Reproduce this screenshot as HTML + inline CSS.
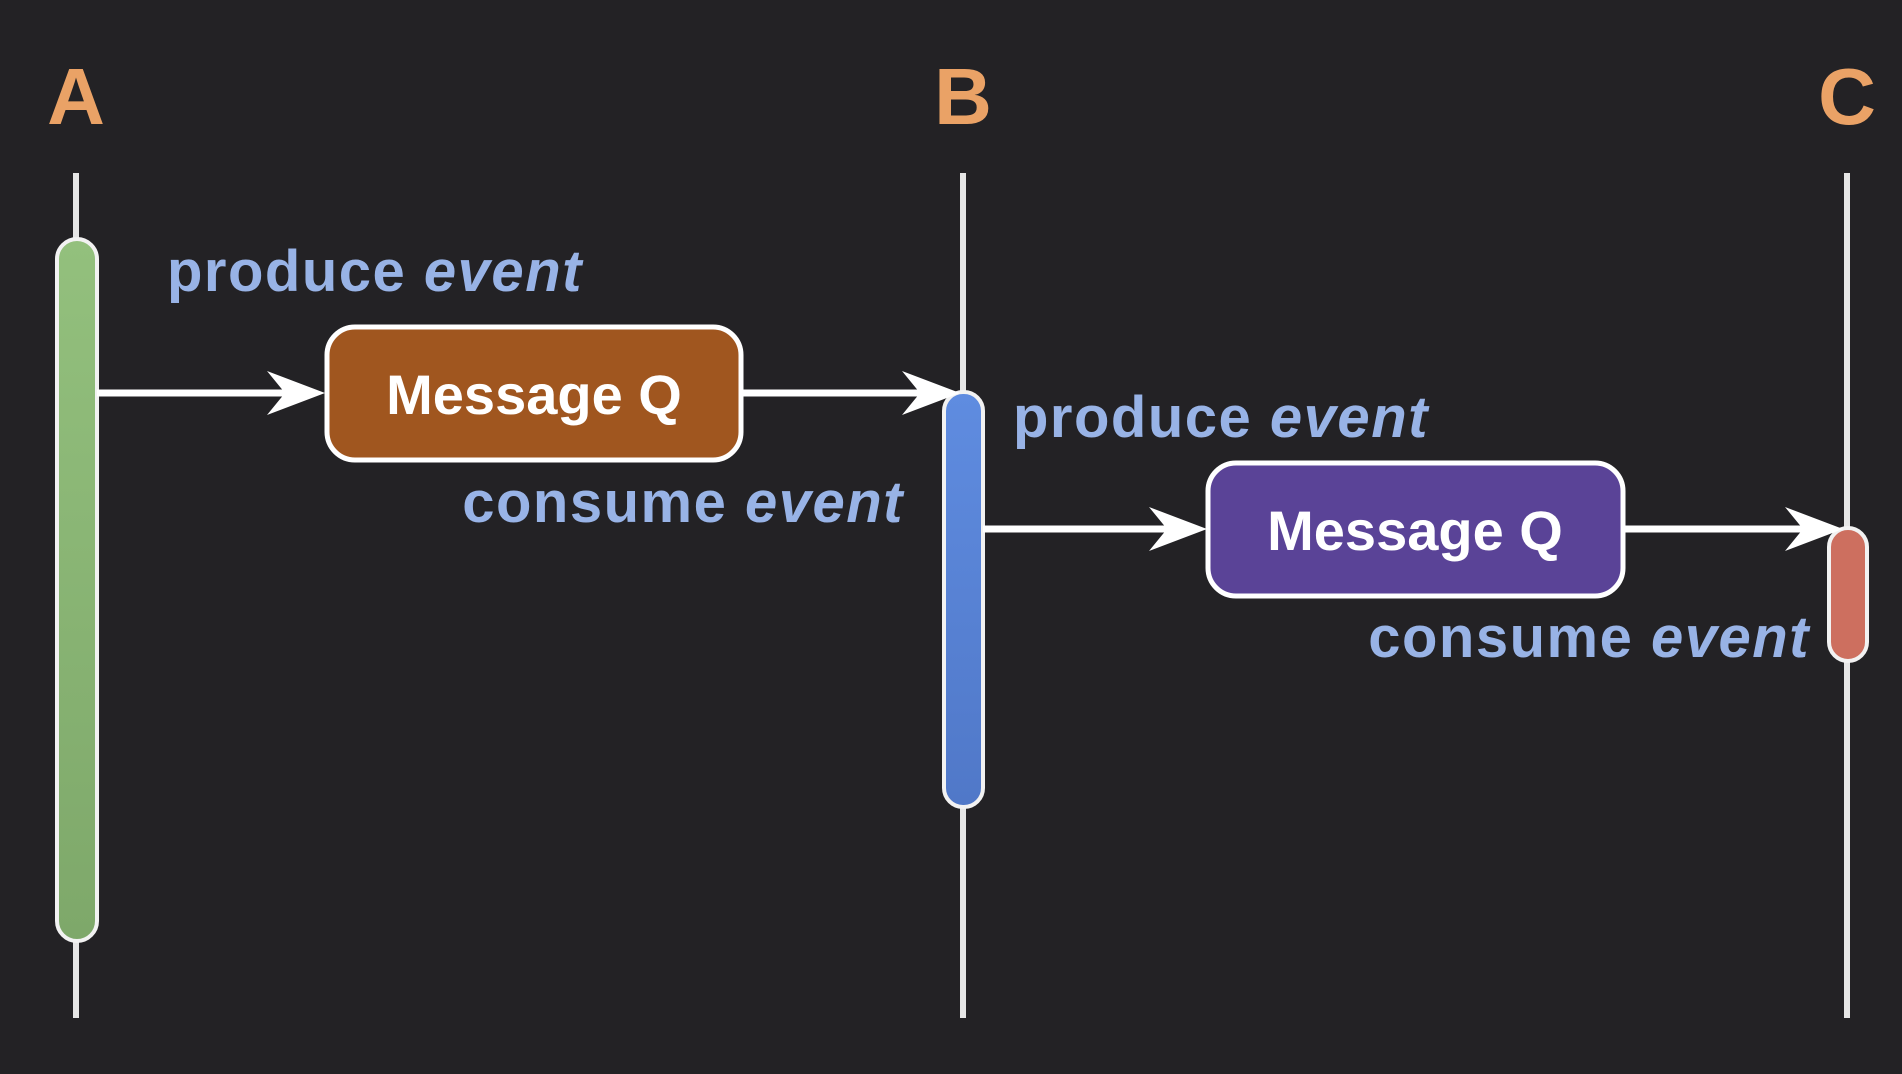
<!DOCTYPE html>
<html><head><meta charset="utf-8"><style>
html,body{margin:0;padding:0;background:#232225;}
svg{display:block}
</style></head><body>
<svg width="1902" height="1074" viewBox="0 0 1902 1074" xmlns="http://www.w3.org/2000/svg">
<defs>
<linearGradient id="gA" x1="0" y1="0" x2="0" y2="1"><stop offset="0" stop-color="#93c07d"/><stop offset="1" stop-color="#7ea86a"/></linearGradient>
<linearGradient id="gB" x1="0" y1="0" x2="0" y2="1"><stop offset="0" stop-color="#5f8ce0"/><stop offset="1" stop-color="#5078c8"/></linearGradient>
<g id="ah"><path d="M0 0 L-58 -22 L-40 0 L-58 22 Z" fill="#fff"/></g>
</defs>
<rect width="1902" height="1074" fill="#232225"/>
<g font-family="Liberation Sans, sans-serif" font-weight="bold" fill="#eaa266" font-size="80" text-anchor="middle">
<text x="76" y="124">A</text><text x="963" y="124">B</text><text x="1847" y="124">C</text>
</g>
<g stroke="#e6e6e6" stroke-width="6">
<line x1="76" y1="173" x2="76" y2="1018"/>
<line x1="963" y1="173" x2="963" y2="1018"/>
<line x1="1847" y1="173" x2="1847" y2="1018"/>
</g>
<rect x="57" y="239" width="40" height="702" rx="20" fill="url(#gA)" stroke="#f2f2f2" stroke-width="4"/>
<rect x="944" y="392" width="39" height="415" rx="19" fill="url(#gB)" stroke="#f2f2f2" stroke-width="4"/>
<rect x="1829" y="528" width="38" height="133" rx="19" fill="#cd6f5f" stroke="#f2f2f2" stroke-width="4"/>
<g stroke="#fff" stroke-width="7">
<line x1="97" y1="393" x2="290" y2="393"/>
<line x1="741" y1="393" x2="930" y2="393"/>
<line x1="983" y1="529" x2="1180" y2="529"/>
<line x1="1623" y1="529" x2="1810" y2="529"/>
</g>
<use href="#ah" x="325" y="393"/><use href="#ah" x="960" y="393"/>
<use href="#ah" x="1207" y="529"/><use href="#ah" x="1843" y="529"/>
<rect x="327" y="327" width="414" height="133" rx="28" fill="#a0561f" stroke="#fff" stroke-width="5"/>
<rect x="1208" y="463" width="415" height="133" rx="28" fill="#5a4397" stroke="#fff" stroke-width="5"/>
<g font-family="Liberation Sans, sans-serif" font-weight="bold" fill="#fff" font-size="56" text-anchor="middle">
<text x="534" y="414">Message Q</text><text x="1415" y="550">Message Q</text>
</g>
<g font-family="Liberation Sans, sans-serif" font-weight="bold" fill="#98b3e6" font-size="58" letter-spacing="1.5">
<text x="167" y="291">produce <tspan font-style="italic">event</tspan></text>
<text x="1013" y="437">produce <tspan font-style="italic">event</tspan></text>
<text x="904" y="522" text-anchor="end">consume <tspan font-style="italic">event</tspan></text>
<text x="1810" y="657" text-anchor="end">consume <tspan font-style="italic">event</tspan></text>
</g>
</svg>
</body></html>
